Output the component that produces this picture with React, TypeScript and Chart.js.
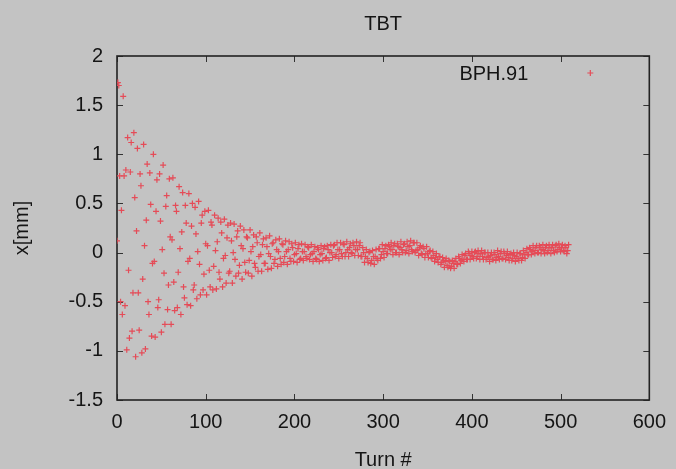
import { useEffect, useRef } from "react";
import { Chart, registerables } from "chart.js";

Chart.register(...registerables);

const chartTitle = "TBT";
const seriesName = "BPH.91";
const xAxisTitle = "Turn #";
const yAxisTitle = "x[mm]";
const xTickValues = [0, 100, 200, 300, 400, 500, 600];
const yTickValues = [-1.5, -1, -0.5, 0, 0.5, 1, 1.5, 2];

// turn-by-turn positions, turns 0..208 (decaying oscillation)
const positionsEarly = [
  0.12, 1.73, 1.70, 0.78, -0.50, 0.43, -0.63, 1.59, 0.78, -0.54, 0.84,
  -0.99, 1.17, -0.18, -0.87, 0.82, 1.12, -0.80, -0.41, 1.22, 0.56, -1.06,
  0.22, 1.06, -0.41, -0.79, 0.80, 0.68, -1.02, -0.27, 1.10, 0.07, -0.98,
  0.33, 0.90, -0.50, -0.63, 0.81, 0.49, -0.85, -0.11, 1.00, -0.09, -0.86,
  0.42, 0.74, -0.56, -0.48, 0.80, 0.32, -0.81, 0.03, 0.89, -0.21, -0.73,
  0.47, 0.58, -0.58, -0.33, 0.75, 0.16, -0.73, 0.13, 0.76, -0.30, -0.59,
  0.48, 0.42, -0.56, -0.20, 0.67, 0.04, -0.63, 0.21, 0.61, -0.35, -0.46,
  0.48, 0.30, -0.53, -0.09, 0.60, -0.06, -0.54, 0.27, 0.50, -0.38, -0.33,
  0.46, 0.19, -0.47, 0.01, 0.52, -0.12, -0.43, 0.30, 0.38, -0.38, -0.22,
  0.42, 0.09, -0.43, 0.07, 0.43, -0.18, -0.35, 0.31, 0.28, -0.38, -0.14,
  0.38, 0.02, -0.37, 0.11, 0.35, -0.20, -0.27, 0.31, 0.20, -0.35, -0.06,
  0.34, -0.03, -0.31, 0.15, 0.28, -0.21, -0.19, 0.30, 0.12, -0.31, 0.00,
  0.29, -0.07, -0.24, 0.16, 0.22, -0.21, -0.13, 0.27, 0.07, -0.27, 0.04,
  0.23, -0.10, -0.20, 0.16, 0.15, -0.21, -0.08, 0.23, 0.01, -0.24, 0.06,
  0.18, -0.11, -0.15, 0.16, 0.10, -0.19, -0.04, 0.20, -0.02, -0.19, 0.08,
  0.14, -0.11, -0.11, 0.15, 0.06, -0.17, -0.01, 0.17, -0.04, -0.16, 0.09,
  0.10, -0.11, -0.07, 0.13, 0.03, -0.14, 0.01, 0.14, -0.06, -0.12, 0.09,
  0.08, -0.10, -0.04, 0.12, 0.01, -0.12, 0.03, 0.11, -0.06, -0.09, 0.09,
  0.05, -0.09, -0.02, 0.10, -0.01, -0.10, 0.04, 0.08, -0.07, -0.06, 0.09,
];

// turn-by-turn positions, turns 209..509 (residual band)
const positionsLate = [
  0.01, -0.08, 0.01, 0.08, -0.04, -0.06, 0.06, 0.05, -0.07, -0.02, 0.08,
  -0.01, -0.09, 0.01, 0.06, -0.06, -0.07, 0.05, 0.03, -0.09, -0.02, 0.07,
  -0.01, -0.08, 0.04, 0.06, -0.06, -0.05, 0.07, 0.03, -0.08, 0.00, 0.08,
  0.00, -0.05, 0.07, 0.08, -0.04, -0.02, 0.10, 0.03, -0.06, 0.03, 0.10,
  -0.01, -0.04, 0.09, 0.08, -0.04, 0.00, 0.11, 0.03, -0.04, 0.05, 0.09,
  0.00, -0.01, 0.10, 0.07, -0.03, 0.03, 0.11, 0.03, -0.03, 0.07, 0.10,
  -0.04, -0.04, 0.05, 0.00, -0.10, -0.04, 0.03, -0.06, -0.10, 0.00, 0.01,
  -0.11, -0.08, 0.02, -0.04, -0.12, -0.04, 0.03, -0.06, -0.08, 0.04, 0.04,
  -0.06, -0.02, 0.08, 0.01, -0.05, 0.04, 0.07, -0.01, -0.01, 0.08, 0.06,
  0.03, 0.10, 0.03, -0.02, 0.07, 0.09, 0.00, 0.00, 0.09, 0.06, -0.02,
  0.05, 0.11, 0.03, 0.00, 0.08, 0.09, 0.00, 0.02, 0.11, 0.06, -0.01,
  0.07, 0.12, 0.03, 0.01, 0.10, 0.10, 0.00, 0.02, 0.10, 0.03, -0.03,
  0.05, 0.07, -0.01, -0.02, 0.06, 0.04, -0.05, -0.01, 0.06, -0.01, -0.05,
  0.01, 0.02, -0.05, -0.06, 0.01, -0.03, -0.09, -0.05, -0.01, -0.07, -0.10,
  -0.04, -0.04, -0.12, -0.10, -0.05, -0.08, -0.15, -0.09, -0.06, -0.13, -0.15,
  -0.08, -0.09, -0.16, -0.14, -0.08, -0.11, -0.16, -0.09, -0.06, -0.12, -0.12,
  -0.04, -0.06, -0.11, -0.08, -0.02, -0.07, -0.09, -0.03, -0.01, -0.07, -0.07,
  0.01, -0.01, -0.07, -0.03, 0.01, -0.04, -0.06, 0.00, 0.01, -0.06, -0.04,
  0.02, -0.01, -0.07, -0.01, 0.02, -0.04, -0.07, 0.00, 0.00, -0.07, -0.05,
  0.00, -0.04, -0.09, -0.03, 0.00, -0.07, -0.07, 0.00, -0.02, -0.08, -0.05,
  0.02, -0.04, -0.07, -0.01, 0.01, -0.06, -0.06, 0.01, -0.01, -0.07, -0.03,
  0.01, -0.05, -0.08, -0.02, -0.01, -0.08, -0.06, 0.00, -0.03, -0.09, -0.04,
  0.00, -0.06, -0.08, -0.01, -0.01, -0.08, -0.05, 0.02, -0.02, -0.06, 0.00,
  0.04, -0.02, -0.02, 0.05, 0.03, -0.02, 0.01, 0.07, 0.02, -0.01, 0.05,
  0.07, 0.00, 0.00, 0.07, 0.05, -0.01, 0.03, 0.08, 0.02, -0.01, 0.05,
  0.07, 0.00, 0.02, 0.08, 0.05, -0.01, 0.05, 0.08, 0.02, 0.00, 0.07,
  0.08, 0.01, 0.03, 0.09, 0.05, 0.01, 0.05, 0.08, 0.02, 0.01, 0.07,
  0.05, -0.01, 0.02, 0.08,
];

const positions = [...positionsEarly, ...positionsLate];
const turns = positions.map((_, i) => i);

const BG = "#c3c3c3";
const RED = "#e54b57";
const TEXT = "#151515";
const FONT = "'Liberation Sans', Arial, Helvetica, sans-serif";

const gnuplotPlugin = {
  id: "gnuplotLook",
  beforeDraw(chart: any) {
    const { ctx, width, height } = chart;
    ctx.save();
    ctx.fillStyle = BG;
    ctx.fillRect(0, 0, width, height);
    ctx.restore();
  },
  beforeDatasetsDraw(chart: any) {
    const { ctx, chartArea } = chart;
    const xs = chart.scales.x;
    const ys = chart.scales.y;
    const { left, right, top, bottom } = chartArea;
    const tl = 6;
    ctx.save();
    ctx.strokeStyle = "#333333";
    ctx.lineWidth = 1;
    ctx.beginPath();
    xTickValues.forEach((v) => {
      const px = Math.round(xs.getPixelForValue(v)) + 0.5;
      ctx.moveTo(px, bottom);
      ctx.lineTo(px, bottom - tl);
      ctx.moveTo(px, top);
      ctx.lineTo(px, top + tl);
    });
    yTickValues.forEach((v) => {
      const py = Math.round(ys.getPixelForValue(v)) + 0.5;
      ctx.moveTo(left, py);
      ctx.lineTo(left + tl, py);
      ctx.moveTo(right, py);
      ctx.lineTo(right - tl, py);
    });
    ctx.stroke();
    ctx.strokeStyle = "#222222";
    ctx.lineWidth = 1.6;
    ctx.strokeRect(left, top, right - left, bottom - top);
    ctx.restore();
  },
  afterDraw(chart: any) {
    const { ctx, chartArea } = chart;
    const ds = chart.data.datasets[0];
    ctx.save();
    ctx.font = `20px ${FONT}`;
    ctx.fillStyle = TEXT;
    ctx.textAlign = "right";
    ctx.textBaseline = "middle";
    const ty = chartArea.top + 18;
    ctx.fillText(ds.label, chartArea.right - 121, ty);
    const mx = chartArea.right - 59;
    const my = chartArea.top + 17;
    ctx.strokeStyle = RED;
    ctx.lineWidth = 1.2;
    ctx.beginPath();
    ctx.moveTo(mx - 3, my);
    ctx.lineTo(mx + 3, my);
    ctx.moveTo(mx, my - 3);
    ctx.lineTo(mx, my + 3);
    ctx.stroke();
    ctx.restore();
  },
};

export default function App() {
  const canvasRef = useRef<HTMLCanvasElement | null>(null);

  useEffect(() => {
    if (!canvasRef.current) return;
    const font = { family: FONT, size: 20, weight: "normal" as const, lineHeight: 1.2 };
    const titleFont = { family: FONT, size: 20, weight: "normal" as const, lineHeight: 1 };
    const chart = new Chart(canvasRef.current, {
      type: "scatter",
      data: {
        datasets: [
          {
            label: seriesName,
            data: turns.map((t, i) => ({ x: t, y: positions[i] })),
            pointStyle: "cross",
            pointRadius: 3,
            pointHoverRadius: 3,
            borderColor: RED,
            backgroundColor: RED,
            borderWidth: 1.2,
          },
        ],
      },
      options: {
        responsive: false,
        animation: false,
        events: [],
        layout: { padding: { left: 0, right: 24, top: 0, bottom: 0 } },
        plugins: {
          legend: { display: false },
          tooltip: { enabled: false },
          title: {
            display: true,
            text: chartTitle,
            fullSize: false,
            color: TEXT,
            font: titleFont,
            padding: { top: 14, bottom: 22 },
          },
        },
        scales: {
          x: {
            type: "linear",
            position: "bottom",
            min: 0,
            max: 600,
            afterBuildTicks: (scale: any) => {
              scale.ticks = xTickValues.map((v) => ({ value: v }));
            },
            afterFit: (scale: any) => {
              scale.height = 69;
            },
            grid: { display: false, drawTicks: false },
            border: { display: false },
            ticks: {
              color: TEXT,
              font,
              padding: 10,
              maxRotation: 0,
              autoSkip: false,
              callback: (v: any) => String(v),
            },
            title: {
              display: true,
              text: xAxisTitle,
              color: TEXT,
              font: titleFont,
              padding: { top: 0, bottom: -1 },
            },
          },
          y: {
            type: "linear",
            min: -1.5,
            max: 2,
            afterBuildTicks: (scale: any) => {
              scale.ticks = yTickValues.map((v) => ({ value: v }));
            },
            afterFit: (scale: any) => {
              scale.width = 117;
            },
            grid: { display: false, drawTicks: false },
            border: { display: false },
            ticks: {
              color: TEXT,
              font,
              padding: 14,
              autoSkip: false,
              callback: (v: any) => String(v),
            },
            title: {
              display: true,
              text: yAxisTitle,
              color: TEXT,
              font: titleFont,
              padding: { top: 12, bottom: 0 },
            },
          },
        },
      },
      plugins: [gnuplotPlugin],
    });
    return () => chart.destroy();
  }, []);

  return (
    <div style={{ position: "fixed", left: 0, top: 0, width: 676, height: 469, background: BG }}>
      <canvas ref={canvasRef} width={676} height={469} style={{ display: "block" }} />
    </div>
  );
}
